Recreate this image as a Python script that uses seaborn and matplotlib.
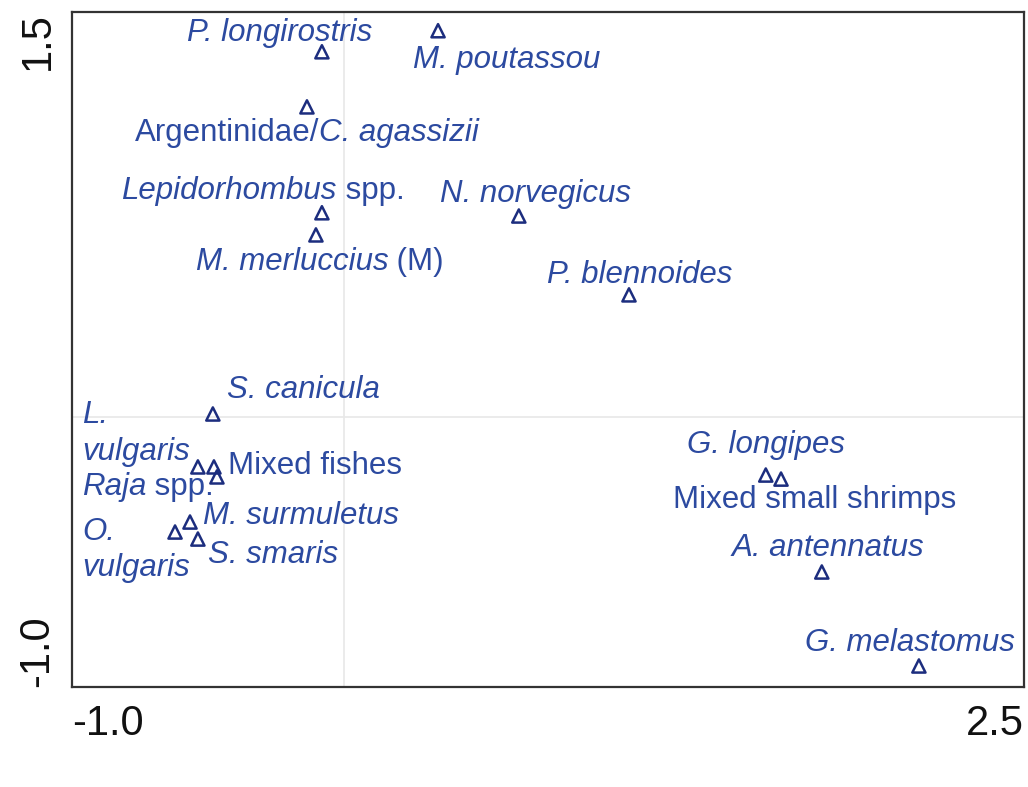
import matplotlib
matplotlib.use("Agg")
import matplotlib.pyplot as plt
from matplotlib.offsetbox import TextArea, HPacker, AnnotationBbox
import seaborn as sns
import pandas as pd

# Species scores on the first two ordination axes
species = [
    "P. longirostris", "M. poutassou", "Argentinidae/C. agassizii",
    "Lepidorhombus spp.", "M. merluccius (M)", "N. norvegicus",
    "P. blennoides", "S. canicula", "L. vulgaris", "Mixed fishes",
    "Raja spp.", "M. surmuletus", "O. vulgaris", "S. smaris",
    "G. longipes", "Mixed small shrimps", "A. antennatus", "G. melastomus",
]
axis1 = [-0.081, 0.346, -0.136, -0.081, -0.103, 0.643, 1.048, -0.482,
         -0.537, -0.478, -0.467, -0.566, -0.621, -0.537,
         1.551, 1.607, 1.757, 2.114]
axis2 = [1.352, 1.430, 1.148, 0.756, 0.674, 0.744, 0.452, 0.011,
         -0.185, -0.185, -0.222, -0.389, -0.426, -0.452,
         -0.215, -0.230, -0.574, -0.922]

x_ticks = [-1.0, -0.5, 0.0, 0.5, 1.0, 1.5, 2.0, 2.5]
y_ticks = [-1.0, -0.5, 0.0, 0.5, 1.0, 1.5]

df = pd.DataFrame({"species": species, "axis1": axis1, "axis2": axis2})

sns.set_theme(style="white")
plt.rcParams["font.family"] = ["Liberation Sans", "DejaVu Sans"]

TEXT_BLUE = "#2c4aa0"
MARK_BLUE = "#1c2d7e"
FS = 22.5

fig = plt.figure(figsize=(10.28, 7.87), dpi=100)
ax = fig.add_axes([0.070, 0.127, 0.926, 0.858])

ax.axvline(0, color="#e8e8e8", lw=1.2, zorder=0)
ax.axhline(0, color="#e8e8e8", lw=1.2, zorder=0)

sns.scatterplot(data=df, x="axis1", y="axis2", ax=ax, marker="^", s=90,
                facecolor="none", edgecolor=MARK_BLUE, linewidth=1.8,
                zorder=3, legend=False)

# label pieces as (text, italic?), offset in pixels, horizontal alignment
I, N = True, False
labels = {
    "P. longirostris": ([("P. longirostris", I)], (-42, 19), "center"),
    "M. poutassou": ([("M. poutassou", I)], (69, -29), "center"),
    "Argentinidae/C. agassizii": ([("Argentinidae/", N), ("C. agassizii", I)], (0, -26), "center"),
    "Lepidorhombus spp.": ([("Lepidorhombus", I), (" spp.", N)], (-59, 22), "center"),
    "M. merluccius (M)": ([("M. merluccius", I), (" (M)", N)], (4, -27), "center"),
    "N. norvegicus": ([("N. norvegicus", I)], (17, 22), "center"),
    "P. blennoides": ([("P. blennoides", I)], (11, 20), "center"),
    "S. canicula": ([("S. canicula", I)], (91, 24), "center"),
    "L. vulgaris": ([("L.\nvulgaris", I)], (-116, 33), "left"),
    "Mixed fishes": ([("Mixed fishes", N)], (14, 1), "left"),
    "Raja spp.": ([("Raja", I), (" spp.", N)], (-135, -10), "left"),
    "M. surmuletus": ([("M. surmuletus", I)], (13, 6), "left"),
    "O. vulgaris": ([("O.\nvulgaris", I)], (-93, -18), "left"),
    "S. smaris": ([("S. smaris", I)], (10, -16), "left"),
    "G. longipes": ([("G. longipes", I)], (0, 30), "center"),
    "Mixed small shrimps": ([("Mixed small shrimps", N)], (34, -21), "center"),
    "A. antennatus": ([("A. antennatus", I)], (6, 24), "center"),
    "G. melastomus": ([("G. melastomus", I)], (-9, 23), "center"),
}

for name, x, y in zip(df["species"], df["axis1"], df["axis2"]):
    pieces, off, ha = labels[name]
    if len(pieces) == 1:
        txt, it = pieces[0]
        ax.annotate(txt, (x, y), xytext=off, textcoords="offset pixels",
                    ha=ha, va="center", fontsize=FS, color=TEXT_BLUE,
                    fontstyle="italic" if it else "normal",
                    linespacing=1.3, zorder=4)
    else:
        areas = [TextArea(t, textprops=dict(fontsize=FS, color=TEXT_BLUE,
                                            fontstyle="italic" if it else "normal"))
                 for t, it in pieces]
        box = HPacker(children=areas, pad=0, sep=0, align="baseline")
        ab = AnnotationBbox(box, (x, y), xybox=off, boxcoords="offset pixels",
                            box_alignment=(0.5 if ha == "center" else 0.0, 0.5),
                            frameon=False, pad=0, zorder=4)
        ax.add_artist(ab)

ax.set_xlim(x_ticks[0], x_ticks[-1])
ax.set_ylim(y_ticks[0], y_ticks[-1])
ax.set_xticks(x_ticks)
ax.set_yticks(y_ticks)
ax.set_xticklabels([f"{v:.1f}" if v in (x_ticks[0], x_ticks[-1]) else "" for v in x_ticks])
ax.set_yticklabels([f"{v:.1f}" if v in (y_ticks[0], y_ticks[-1]) else "" for v in y_ticks],
                   rotation=90)
ax.set_xlabel("")
ax.set_ylabel("")

ax.tick_params(axis="both", direction="inout", length=9, width=1.4,
               color="#333333", labelsize=30, labelcolor="#111111")
ax.tick_params(axis="x", pad=8)
ax.tick_params(axis="y", pad=6)

xl = ax.get_xticklabels()
xl[0].set_ha("left")
xl[-1].set_ha("right")
yl = ax.get_yticklabels()
yl[0].set_va("bottom")
yl[-1].set_va("top")

for sp in ax.spines.values():
    sp.set_visible(True)
    sp.set_color("#333333")
    sp.set_linewidth(1.6)

fig.savefig("out.png", dpi=100, facecolor="white")
